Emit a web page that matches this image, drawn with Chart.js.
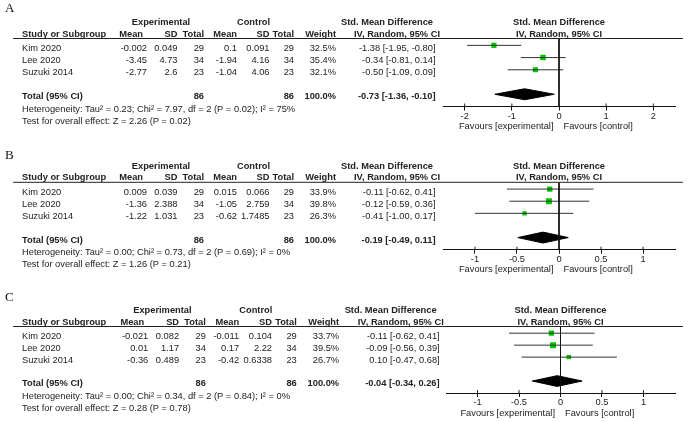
<!DOCTYPE html>
<html><head><meta charset="utf-8">
<script src="https://cdn.jsdelivr.net/npm/chart.js@4.4.1/dist/chart.umd.min.js"></script>
<style>
html,body{margin:0;padding:0;background:#fff;}
#wrap{position:relative;width:692px;height:422px;background:#fff;overflow:hidden;}
canvas{position:absolute;left:0;}
</style></head><body>
<div id="wrap">
<canvas id="c0" width="692" height="140" style="top:0px"></canvas>
<canvas id="c1" width="692" height="140" style="top:140px"></canvas>
<canvas id="c2" width="692" height="142" style="top:280px"></canvas>
</div>
<script>
// ---------- DATA ----------
const panelLabels = ['A', 'B', 'C'];
const studies = ['Kim 2020', 'Lee 2020', 'Suzuki 2014'];
const expMean = [[-0.002, -3.45, -2.77], [0.009, -1.36, -1.22], [-0.021, 0.01, -0.36]];
const expSD = [[0.049, 4.73, 2.6], [0.039, 2.388, 1.031], [0.082, 1.17, 0.489]];
const expTotal = [[29, 34, 23], [29, 34, 23], [29, 34, 23]];
const ctlMean = [[0.1, -1.94, -1.04], [0.015, -1.05, -0.62], [-0.011, 0.17, -0.42]];
const ctlSD = [[0.091, 4.16, 4.06], [0.066, 2.759, 1.7485], [0.104, 2.22, 0.6338]];
const ctlTotal = [[29, 34, 23], [29, 34, 23], [29, 34, 23]];
const weights = [[32.5, 35.4, 32.1], [33.9, 39.8, 26.3], [33.7, 39.5, 26.7]];
const smd = [[-1.38, -0.34, -0.50], [-0.11, -0.12, -0.41], [-0.11, -0.09, 0.10]];
const ciLow = [[-1.95, -0.81, -1.09], [-0.62, -0.59, -1.00], [-0.62, -0.56, -0.47]];
const ciHigh = [[-0.80, 0.14, 0.09], [0.41, 0.36, 0.17], [0.41, 0.39, 0.68]];
const totalExp = [86, 86, 86];
const totalCtl = [86, 86, 86];
const totalWeight = [100.0, 100.0, 100.0];
const pooled = [-0.73, -0.19, -0.04];
const pooledLow = [-1.36, -0.49, -0.34];
const pooledHigh = [-0.10, 0.11, 0.26];
const heterogeneity = [
  'Heterogeneity: Tau\u00b2 = 0.23; Chi\u00b2 = 7.97, df = 2 (P = 0.02); I\u00b2 = 75%',
  'Heterogeneity: Tau\u00b2 = 0.00; Chi\u00b2 = 0.73, df = 2 (P = 0.69); I\u00b2 = 0%',
  'Heterogeneity: Tau\u00b2 = 0.00; Chi\u00b2 = 0.34, df = 2 (P = 0.84); I\u00b2 = 0%'
];
const overallTest = [
  'Test for overall effect: Z = 2.26 (P = 0.02)',
  'Test for overall effect: Z = 1.26 (P = 0.21)',
  'Test for overall effect: Z = 0.28 (P = 0.78)'
];
const axisTicks = [[-2, -1, 0, 1, 2], [-1, -0.5, 0, 0.5, 1], [-1, -0.5, 0, 0.5, 1]];
const axisLimit = [2.46, 1.38, 1.38];
const favoursLeft = 'Favours [experimental]';
const favoursRight = 'Favours [control]';

// ---------- LAYOUT / STYLE ----------
const W = 692;
const heights = [140, 140, 142];
const layoutCfg = [
  { top: 38.5, axis: 106.5, left: 443, letterY: 9, colScale: 1.0 },
  { top: 42.3, axis: 109.7, left: 443, letterY: 15.5, colScale: 1.0 },
  { top: 46.5, axis: 113, left: 446, letterY: 17.5, colScale: 1.01 }
];
const RIGHT_EDGE = 675;
const AXIS_H = 20;
const Y_MIN = 0.44, Y_MAX = 6.0;
const TOTAL_ROW = 5, HET_ROW = 6, TEST_ROW = 7;
const DIAMOND_HALF = 0.45;
const FS = 9.3;
const FONT = '"Liberation Sans", Arial, sans-serif';
const TXT = '#222';
const GREEN = '#00c400';
const sqSide = w => 6 * Math.pow(w / 40, 0.75);
const f2 = v => v.toFixed(2);
const ciText = (e, l, h) => `${f2(e)} [${f2(l)}, ${f2(h)}]`;

const COL = {
  study: 22, expMeanH: 143, expMean: 147, expSD: 177.5, expN: 204,
  expCenter: 161, ctlMeanH: 237, ctlMean: 237, ctlSD: 269.5, ctlN: 294, ctlCenter: 253.5,
  weight: 336, smdR: 435.5, smdHead1: 387, smdHead2: 397
};

function txt(ctx, s, x, y, align, bold, size, family, color) {
  ctx.save();
  ctx.font = (bold ? 'bold ' : '') + (size || FS) + 'px ' + (family || FONT);
  ctx.fillStyle = color || TXT;
  ctx.textAlign = align || 'left';
  ctx.textBaseline = 'middle';
  ctx.fillText(s, x, y);
  ctx.restore();
}

function makeTablePlugin(p) {
  const cs = layoutCfg[p].colScale;
  const cx = x => COL.study + (x - COL.study) * cs;
  return {
    id: 'forestTable' + p,
    afterDraw(chart) {
      const ctx = chart.ctx;
      const ca = chart.chartArea;
      const ys = chart.scales.y, xs = chart.scales.x;
      const yp = v => ys.getPixelForValue(v);
      const top = ca.top;
      const mid = (ca.left + ca.right) / 2;
      // panel letter
      txt(ctx, panelLabels[p], 5, layoutCfg[p].letterY, 'left', false, 13, '"Liberation Serif", "Times New Roman", serif', '#111');
      // header line
      ctx.save();
      ctx.strokeStyle = '#222'; ctx.lineWidth = 1;
      ctx.beginPath(); ctx.moveTo(13, top); ctx.lineTo(683, top); ctx.stroke();
      // tick marks extend a bit above the axis
      ctx.beginPath();
      axisTicks[p].forEach(t => { const x = xs.getPixelForValue(t); ctx.moveTo(x, ca.bottom - 3); ctx.lineTo(x, ca.bottom); });
      ctx.stroke();
      ctx.restore();
      const r1 = top - 16, r2 = top - 4.5;
      txt(ctx, 'Experimental', cx(COL.expCenter), r1, 'center', true);
      txt(ctx, 'Control', cx(COL.ctlCenter), r1, 'center', true);
      txt(ctx, 'Std. Mean Difference', cx(COL.smdHead1), r1, 'center', true);
      txt(ctx, 'Std. Mean Difference', mid, r1, 'center', true);
      txt(ctx, 'Study or Subgroup', COL.study, r2, 'left', true);
      txt(ctx, 'Mean', cx(COL.expMeanH), r2, 'right', true);
      txt(ctx, 'SD', cx(COL.expSD), r2, 'right', true);
      txt(ctx, 'Total', cx(COL.expN), r2, 'right', true);
      txt(ctx, 'Mean', cx(COL.ctlMeanH), r2, 'right', true);
      txt(ctx, 'SD', cx(COL.ctlSD), r2, 'right', true);
      txt(ctx, 'Total', cx(COL.ctlN), r2, 'right', true);
      txt(ctx, 'Weight', cx(COL.weight), r2, 'right', true);
      txt(ctx, 'IV, Random, 95% CI', cx(COL.smdHead2), r2, 'center', true);
      txt(ctx, 'IV, Random, 95% CI', mid, r2, 'center', true);
      studies.forEach((s, i) => {
        const y = yp(i + 1) + 3;
        txt(ctx, s, COL.study, y, 'left');
        txt(ctx, String(expMean[p][i]), cx(COL.expMean), y, 'right');
        txt(ctx, String(expSD[p][i]), cx(COL.expSD), y, 'right');
        txt(ctx, String(expTotal[p][i]), cx(COL.expN), y, 'right');
        txt(ctx, String(ctlMean[p][i]), cx(COL.ctlMean), y, 'right');
        txt(ctx, String(ctlSD[p][i]), cx(COL.ctlSD), y, 'right');
        txt(ctx, String(ctlTotal[p][i]), cx(COL.ctlN), y, 'right');
        txt(ctx, weights[p][i].toFixed(1) + '%', cx(COL.weight), y, 'right');
        txt(ctx, ciText(smd[p][i], ciLow[p][i], ciHigh[p][i]), cx(COL.smdR), y, 'right');
      });
      const ty = yp(TOTAL_ROW) + 2.5;
      txt(ctx, 'Total (95% CI)', COL.study, ty, 'left', true);
      txt(ctx, String(totalExp[p]), cx(COL.expN), ty, 'right', true);
      txt(ctx, String(totalCtl[p]), cx(COL.ctlN), ty, 'right', true);
      txt(ctx, totalWeight[p].toFixed(1) + '%', cx(COL.weight), ty, 'right', true);
      txt(ctx, ciText(pooled[p], pooledLow[p], pooledHigh[p]), cx(COL.smdR), ty, 'right', true);
      txt(ctx, heterogeneity[p], COL.study, yp(HET_ROW) + 3, 'left');
      txt(ctx, overallTest[p], COL.study, yp(TEST_ROW) + 3, 'left');
      const fy = ca.bottom + 20;
      txt(ctx, favoursLeft, mid - 5.5, fy, 'right');
      txt(ctx, favoursRight, mid + 4.5, fy, 'left');
    }
  };
}

function buildPanel(p) {
  const cfg = layoutCfg[p];
  const datasets = [];
  // zero line
  datasets.push({ data: [{ x: 0, y: Y_MIN }, { x: 0, y: Y_MAX }], showLine: true, borderColor: '#111', borderWidth: 1, pointRadius: 0 });
  // CI lines
  studies.forEach((s, i) => {
    datasets.push({ data: [{ x: ciLow[p][i], y: i + 1 }, { x: ciHigh[p][i], y: i + 1 }], showLine: true, borderColor: '#333', borderWidth: 1, pointRadius: 0 });
  });
  // squares
  datasets.push({
    data: smd[p].map((v, i) => ({ x: v, y: i + 1 })), showLine: false, pointStyle: 'rect',
    pointRadius: weights[p].map(w => sqSide(w) / Math.SQRT2), backgroundColor: GREEN, borderWidth: 0, pointBorderWidth: 0
  });
  // diamond
  datasets.push({
    data: [
      { x: pooledLow[p], y: TOTAL_ROW }, { x: pooled[p], y: TOTAL_ROW - DIAMOND_HALF },
      { x: pooledHigh[p], y: TOTAL_ROW }, { x: pooled[p], y: TOTAL_ROW + DIAMOND_HALF },
      { x: pooledLow[p], y: TOTAL_ROW }
    ],
    showLine: true, fill: 'shape', backgroundColor: '#000', borderColor: '#000', borderWidth: 1, pointRadius: 0, tension: 0
  });
  const H = heights[p];
  return new Chart(document.getElementById('c' + p), {
    type: 'scatter',
    data: { datasets },
    options: {
      responsive: false, animation: false, events: [],
      layout: { padding: { left: cfg.left, right: W - RIGHT_EDGE, top: cfg.top, bottom: H - cfg.axis - AXIS_H } },
      plugins: { legend: { display: false }, tooltip: { enabled: false } },
      scales: {
        x: {
          type: 'linear', position: 'bottom', min: -axisLimit[p], max: axisLimit[p],
          afterBuildTicks: sc => { sc.ticks = axisTicks[p].map(v => ({ value: v })); },
          afterFit: sc => { sc.height = AXIS_H; },
          grid: { drawOnChartArea: false, drawTicks: true, tickLength: 4, color: '#111' },
          border: { display: true, color: '#111', width: 1 },
          ticks: { padding: 0, color: '#222', font: { size: FS, family: FONT }, callback: v => String(v), maxRotation: 0, autoSkip: false }
        },
        y: { type: 'linear', display: false, min: Y_MIN, max: Y_MAX, reverse: true }
      }
    },
    plugins: [makeTablePlugin(p)]
  });
}
[0, 1, 2].forEach(buildPanel);
</script>
</body></html>
